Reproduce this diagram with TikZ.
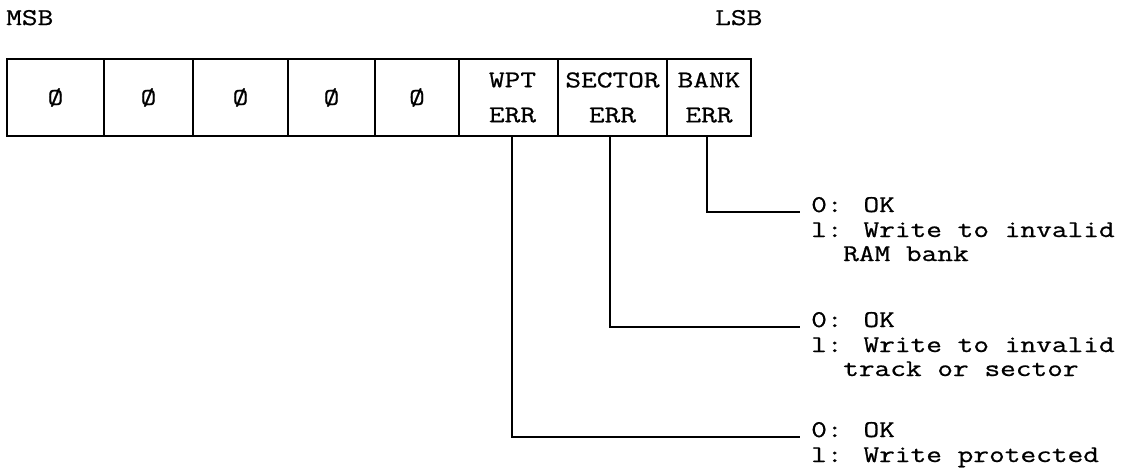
\documentclass[tikz,border=0pt]{standalone}
\usepackage{fontspec}
\newfontfamily\tw[FakeStretch=1.27,FakeBold=0.8]{Latin Modern Mono}
\begin{document}
\begin{tikzpicture}[x=1pt,y=-1pt,
  txt/.style={font=\tw\fontsize{24}{25}\selectfont, inner sep=0pt},
  cell/.style={draw, line width=1.5pt, minimum height=77pt, inner sep=0pt,
    font=\tw\fontsize{24}{35}\selectfont, align=center},
  wire/.style={line width=1.5pt}]
\useasboundingbox (0,0) rectangle (1134,474);

\node[txt, anchor=base west] (msb) at (6,25) {MSB};
\node[txt, anchor=base west] (lsb) at (715,25) {LSB};

\node[cell, minimum width=97pt] (c7) at (55.5,97.5) {Ø};
\node[cell, minimum width=89pt] (c6) at (148.5,97.5) {Ø};
\node[cell, minimum width=95pt] (c5) at (240.5,97.5) {Ø};
\node[cell, minimum width=87pt] (c4) at (331.5,97.5) {Ø};
\node[cell, minimum width=84pt] (c3) at (417,97.5) {Ø};
\node[cell, minimum width=99pt] (wpt) at (508.5,97.5) {\hspace*{8pt}WPT\\\hspace*{8pt}ERR};
\node[cell, minimum width=109pt] (sector) at (612.5,97.5) {SECTOR\\ERR};
\node[cell, minimum width=84pt] (bank) at (709,97.5) {BANK\\ERR};

\coordinate (e0) at (800,212);
\coordinate (e1) at (800,327);
\coordinate (e2) at (800,437);
\draw[wire] ([xshift=-2pt]bank.south) |- (e0);
\draw[wire] ([xshift=-2.5pt]sector.south) |- (e1);
\draw[wire] ([xshift=3.5pt]wpt.south) |- (e2);

\node[txt, anchor=base west] (a0) at (811,212) {0: OK};
\node[txt, anchor=base west] (a1) at (811,237) {l: Write to invalid};
\node[txt, anchor=base west] (a2) at (843,261) {RAM bank};

\node[txt, anchor=base west] (b0) at (811,327) {0: OK};
\node[txt, anchor=base west] (b1) at (811,352) {l: Write to invalid};
\node[txt, anchor=base west] (b2) at (843,376) {track or sector};

\node[txt, anchor=base west] (d0) at (811,437) {0: OK};
\node[txt, anchor=base west] (d1) at (811,462) {l: Write protected};
\end{tikzpicture}
\end{document}
